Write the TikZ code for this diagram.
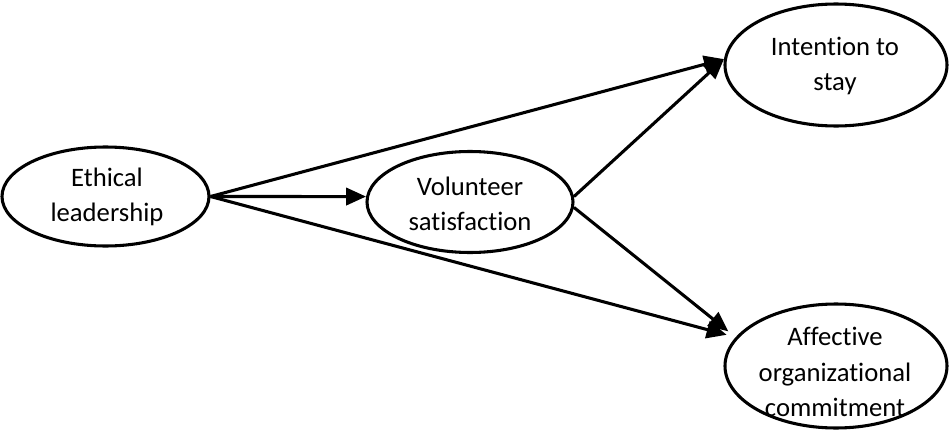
\documentclass[tikz,border=0pt]{standalone}
\usepackage{fontspec}
\setmainfont{Carlito}[Ligatures={NoCommon}]
\usetikzlibrary{arrows.meta,shapes.geometric}
\tikzset{
  oval/.style={draw=black, line width=2.3pt, ellipse, inner sep=0pt},
  lbl/.style={align=center, font=\fontsize{20}{26.5}\selectfont, inner sep=0pt},
  conn/.style={line width=2.3pt, -{Triangle[length=15pt,width=13pt]}},
}
\begin{document}
\begin{tikzpicture}[x=0.75pt, y=-0.75pt]
\useasboundingbox (0,0) rectangle (950,432);
\node[oval, minimum width=207*0.75pt, minimum height=99*0.75pt] (eth) at (105.5,196.5) {};
\node[oval, minimum width=206*0.75pt, minimum height=101*0.75pt] (vol) at (470,202) {};
\node[oval, minimum width=222*0.75pt, minimum height=122*0.75pt] (int) at (836,65) {};
\node[oval, minimum width=222*0.75pt, minimum height=124*0.75pt] (aoc) at (836,366) {};
\node[lbl] (ethT) at (107,197) {Ethical\\leadership};
\node[lbl] (volT) at (470,204) {Volunteer\\satisfaction};
\node[lbl] (intT) at (835,66) {Intention to\\stay};
\node[lbl] (aocT) at (835,372) {Affective\\organizational\\commitment};
\draw[conn] (eth.east) -- (vol.177);
\draw[conn] (eth.east) -- (int.177);
\draw[conn, shorten >=7pt] (eth.east) -- (aoc.164);
\draw[conn] (vol.3) -- (int.177);
\draw[conn, shorten >=7pt] (vol.-3) -- (aoc.164);
\end{tikzpicture}
\end{document}
